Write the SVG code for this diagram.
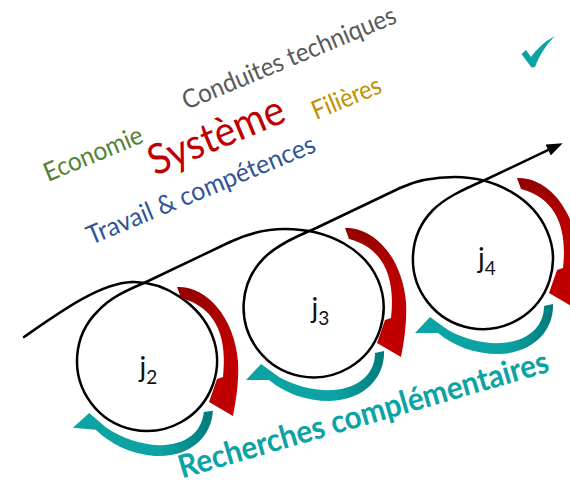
<svg xmlns="http://www.w3.org/2000/svg" width="570" height="487" viewBox="0 0 570 487">
<style>
.line{fill:none;stroke:#000;stroke-width:2.5;stroke-linecap:round;stroke-linejoin:round}
.lbl{font-family:Lato,"Open Sans","Liberation Sans",sans-serif;font-size:28px;fill:#111;text-anchor:middle}
.sub{font-size:19px}
.word{font-family:Lato,"Open Sans","Liberation Sans",sans-serif;font-size:26px}
</style>
<defs>
<linearGradient id="gRed" x1="0" y1="0" x2="0" y2="1">
<stop offset="0" stop-color="#930000"/>
<stop offset="0.3" stop-color="#B20000"/>
<stop offset="0.5" stop-color="#C00000"/>
<stop offset="1" stop-color="#C00000"/>
</linearGradient>
<linearGradient id="gTeal" x1="1" y1="0" x2="0" y2="0">
<stop offset="0" stop-color="#007A7A"/>
<stop offset="0.2" stop-color="#089393"/>
<stop offset="0.35" stop-color="#0BA3A3"/>
<stop offset="1" stop-color="#0BA3A3"/>
</linearGradient>
<path id="redArrow" fill="url(#gRed)" d="M31,-79 C60,-80 88,-50 92,-5 C93,12 91,30 87,50 L63,36 L71,13 L77,11 C81,-25 73,-58 35,-68 Z"/>
<path id="tealArrow" fill="url(#gTeal)" d="M69,44 C70,70 50,93 15,94 C-10,94 -30,86 -46,73 L-69,73 L-54,57 L-36,70 C-20,79 0,84 18,83 C45,81 60,66 60,46 Z"/>
<marker id="ah" markerUnits="userSpaceOnUse" markerWidth="16" markerHeight="12" viewBox="0 0 16 12" refX="2" refY="6" orient="auto">
<path d="M0,0 L16,6 L0,12 Z" fill="#000"/>
</marker>
</defs>

<g id="keywords">
<text class="word" transform="translate(186.5,110) rotate(-22.5)" textLength="229" lengthAdjust="spacingAndGlyphs" fill="#595959">Conduites techniques</text>
<text class="word" transform="translate(316,120) rotate(-22.5)" textLength="73" lengthAdjust="spacingAndGlyphs" fill="#BF9000">Filières</text>
<text class="word" transform="translate(155,176) rotate(-22.5)" style="font-size:42px" textLength="144" lengthAdjust="spacingAndGlyphs" fill="#C00000">Système</text>
<text class="word" transform="translate(48,182) rotate(-22.5)" textLength="105" lengthAdjust="spacingAndGlyphs" fill="#548235">Economie</text>
<text class="word" transform="translate(91,245) rotate(-22.5)" textLength="245" lengthAdjust="spacingAndGlyphs" fill="#2F5597">Travail &amp; compétences</text>
<text class="word" transform="translate(182,478.5) rotate(-16.2)" style="font-size:32px;font-weight:bold" textLength="384" lengthAdjust="spacingAndGlyphs" fill="#0BA3A3">Recherches complémentaires</text>
</g>

<g id="check">
<path fill="#0BA3A3" d="M521.5,54 L526,50 L531,57 C537,49 545,41 554.5,36.5 C547,44 540,54 535,67 L531.5,67.5 Z"/>
</g>

<g id="connectors">
<path class="line" d="M24,337 C60,312 100,283 132,282"/>
<path class="line" d="M144,283 L230,242"/>
<path class="line" d="M312,230 L400,188"/>
<path class="line" d="M485,180 L550,149.2" marker-end="url(#ah)"/>
</g>

<g id="node-j2">
<path class="line" d="M132,282 C165,281 200,305 212,335 A70,70 0 1 1 98,311 C110,298 125,291 144,283"/>
<text class="lbl" x="148.5" y="377">j<tspan class="sub" dy="7">2</tspan></text>
<use href="#redArrow" transform="translate(146,366)"/>
<use href="#tealArrow" transform="translate(148,361) rotate(5)"/>
</g>

<g id="node-j3">
<path class="line" d="M230,242 C250,232.5 268,229 285,229 C330,229 365,250 378,280 A70,70 0 1 1 264,258 C276,246 292,238 312,230"/>
<text class="lbl" x="320.5" y="317.7">j<tspan class="sub" dy="7">3</tspan></text>
<use href="#redArrow" transform="translate(314,307)"/>
<use href="#tealArrow" transform="translate(315,307)"/>
</g>

<g id="node-j4">
<path class="line" d="M400,188 C420,178.5 440,177 455,177 C495,177 533,198 547,231 A70,70 0 1 1 433,210 C445,198 462,190 485,180"/>
<text class="lbl" x="487" y="267.7">j<tspan class="sub" dy="7">4</tspan></text>
<use href="#redArrow" transform="translate(486,257)"/>
<use href="#tealArrow" transform="translate(484,260)"/>
</g>
</svg>
